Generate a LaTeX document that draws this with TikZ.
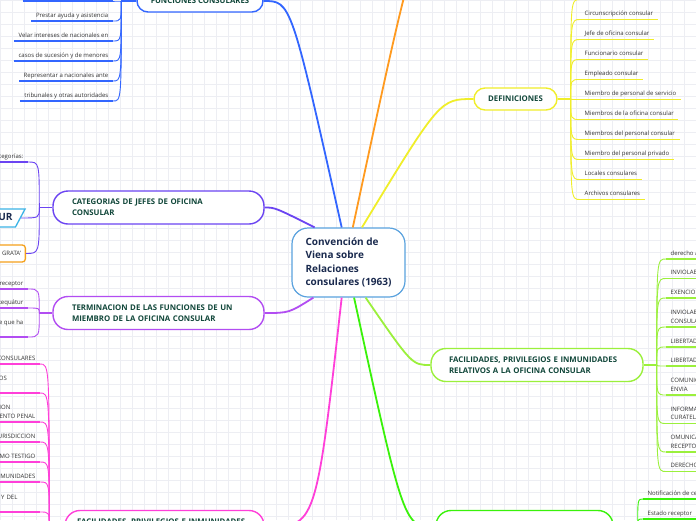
\documentclass[tikz,border=0pt]{standalone}
\usepackage{fontspec}
\setmainfont{Open Sans}
\usepackage{tikz}
\usetikzlibrary{positioning,shapes.geometric}

\definecolor{gridline}{HTML}{EDEEF3}
\definecolor{ctrblue}{HTML}{5AA2DE}
\definecolor{ctrtext}{HTML}{1A2A4E}
\definecolor{topictext}{HTML}{11473A}
\definecolor{leafgray}{HTML}{333333}
\definecolor{funcblue}{HTML}{3366FF}
\definecolor{orangeline}{HTML}{FF9A1F}
\definecolor{defyellow}{HTML}{F0EE2A}
\definecolor{catviolet}{HTML}{6B44F2}
\definecolor{termpurple}{HTML}{B24DF2}
\definecolor{faclime}{HTML}{9BF03C}
\definecolor{facmagenta}{HTML}{FF3FD9}
\definecolor{notgreen}{HTML}{3AF20A}
\definecolor{exqcyan}{HTML}{3BB3E6}
\definecolor{grataorange}{HTML}{F5A11C}

\tikzset{
  centre/.style={draw=ctrblue, line width=1.2pt, fill=white, rounded corners=16pt,
    minimum width=113pt, minimum height=69pt, align=left, text=ctrtext,
    font=\bfseries\fontsize{10}{13.6}\selectfont},
  topic/.style={draw=#1, line width=1.4pt, fill=white, text=topictext,
    font=\bfseries\fontsize{7.8}{11}\selectfont},
  pill/.style={topic=#1, rounded corners=11pt, minimum height=22pt},
  twoline/.style={topic=#1, rounded corners=15pt, minimum height=33pt, align=left},
  leaf/.style={text=leafgray, font=\fontsize{6}{8.6}\selectfont, align=left,
    inner xsep=4.5pt, inner ysep=2pt, text depth=1.6pt},
  exq/.style={trapezium, trapezium left angle=62, trapezium right angle=118,
    draw=exqcyan, line width=1.3pt, fill=white, text=ctrtext,
    font=\bfseries\fontsize{10}{12}\selectfont, inner xsep=3pt, inner ysep=4.5pt},
  grata/.style={draw=grataorange, line width=1.3pt, rounded corners=3pt, fill=white,
    text=leafgray, font=\fontsize{6}{8}\selectfont, inner xsep=4.5pt, minimum height=17pt},
  limb/.style={draw=#1, line width=1.8pt},
  twig/.style={draw=#1, line width=0.9pt},
  uline/.style={draw=#1, line width=1.7pt}
}

\begin{document}
\begin{tikzpicture}[x=1pt,y=1pt]
  \useasboundingbox (0,0) rectangle (696,-520);
  \clip (0,0) rectangle (696,-520);
  \fill[white] (0,0) rectangle (696,-520);
  \draw[gridline, line width=0.4pt, step=12] (0,0) grid (696,-520);

  % centre and main topics
  \node[centre] (ctr) at (348.5,-262.5) {Convención de\\Viena sobre\\Relaciones\\consulares (1963)};
  \node[pill=funcblue, minimum width=126pt] (func) at (200,-1) {FUNCIONES CONSULARES};
  \node[pill=defyellow, minimum width=83pt] (defs) at (515.5,-99) {DEFINICIONES};
  \node[twoline=catviolet, text width=173pt, inner xsep=19pt] (cats) at (158.5,-207.5)
    {CATEGORIAS DE JEFES DE OFICINA\\CONSULAR};
  \node[twoline=termpurple, text width=173pt, inner xsep=19pt] (term) at (158.5,-313)
    {TERMINACION DE LAS FUNCIONES DE UN\\MIEMBRO DE LA OFICINA CONSULAR};
  \node[twoline=faclime, text width=176pt, inner xsep=18pt] (facof) at (537,-365)
    {FACILIDADES, PRIVILEGIOS E INMUNIDADES\\RELATIVOS A LA OFICINA CONSULAR};
  \node[twoline=facmagenta, text width=175pt, inner xsep=12pt] (facfun) at (164.5,-527)
    {FACILIDADES, PRIVILEGIOS E INMUNIDADES\\RELATIVOS A LOS FUNCIONARIOS};
  \node[twoline=notgreen, minimum width=177pt] (notif) at (524.5,-527) {};
  \coordinate (orgE) at (440,62);

  % branch points
  \coordinate[left=15pt of func.west] (fB);
  \coordinate[right=13pt of defs.east] (dB);
  \coordinate[left=13pt of cats.west] (cB);
  \coordinate[left=13pt of term.west] (tB);
  \coordinate[right=13pt of facof.east] (oB);
  \coordinate[left=15pt of facfun.west] (mB);
  \coordinate[right=24pt of notif.east] (nB);

  % main branches
  \draw[limb=funcblue] (ctr.101) .. controls (291,0 |- func.east) .. (func.east);
  \draw[limb=orangeline] (ctr.83) .. controls (415,62) .. (orgE);
  \draw[limb=defyellow] (ctr.69) .. controls (440,0 |- defs.west) .. (defs.west);
  \draw[limb=catviolet] (ctr.134) .. controls (275,0 |- cats.east) .. (cats.east);
  \draw[limb=termpurple] (ctr.225) .. controls (289,0 |- term.east) .. (term.east);
  \draw[limb=faclime] (ctr.296) .. controls (412,0 |- facof.west) .. (facof.west);
  \draw[limb=facmagenta] (ctr.259) .. controls (316,0 |- facfun.east) .. (facfun.east);
  \draw[limb=notgreen] (ctr.279) .. controls (404,0 |- notif.west) .. (notif.west);

  % funciones consulares
  \foreach \t [count=\i] in {Expedir pasaportes y visados, Prestar ayuda y asistencia,
      Velar intereses de nacionales en, casos de sucesión y de menores,
      Representar a nacionales ante, tribunales y otras autoridades}
    \node[leaf, anchor=south east] (f\i) at (113,{19-20*\i}) {\t};
  \draw[limb=funcblue] (func.west) -- (fB);
  \foreach \i in {1,...,6} {
    \draw[uline=funcblue] (f\i.south west) -- (f\i.south east);
    \draw[twig=funcblue] (fB) .. controls (fB |- f\i.south east) .. (f\i.south east);
  }

  % definiciones
  \foreach \t [count=\i] in {Oficina consular, Circunscripción consular,
      Jefe de oficina consular, Funcionario consular, Empleado consular,
      Miembro de personal de servicio, Miembros de la oficina consular,
      Miembros del personal consular, Miembro del personal privado,
      Locales consulares, Archivos consulares}
    \node[leaf, anchor=south west] (d\i) at (580,{20.5-20*\i}) {\t};
  \draw[limb=defyellow] (defs.east) -- (dB);
  \foreach \i in {1,...,11} {
    \draw[uline=defyellow] (d\i.south west) -- (d\i.south east);
    \draw[twig=defyellow] (dB) .. controls (dB |- d\i.south west) .. (d\i.south west);
  }

  % categorias
  \node[leaf, anchor=south east] (c1) at (28,-162) {Los jefes de oficina consular se dividen en cuatro categorías:};
  \node[exq, anchor=east] (c2) at (21,-218) {EXEQUATUR};
  \node[grata, anchor=east] (c3) at (26,-253.5) {'PERSONA NON GRATA'};
  \draw[limb=catviolet] (cats.west) -- (cB);
  \draw[uline=catviolet] (c1.south west) -- (c1.south east);
  \draw[twig=catviolet] (cB) .. controls (cB |- c1.south east) .. (c1.south east);
  \draw[twig=catviolet] (cB) .. controls (cB |- c2.east) .. (c2.east);
  \draw[twig=catviolet] (cB) .. controls (cB |- c3.east) .. (c3.east);

  % terminacion
  \node[leaf, anchor=south east] (t1) at (28,-289) {Notificación del Estado que envía al Estado receptor};
  \node[leaf, anchor=south east] (t2) at (28,-308) {Retiro del exequátur};
  \node[leaf, anchor=south east] (t3) at (28,-337) {Notificación del Estado receptor de que ha\\dejado de considerarlo miembro};
  \draw[limb=termpurple] (term.west) -- (tB);
  \foreach \i in {1,2,3} {
    \draw[uline=termpurple] (t\i.south west) -- (t\i.south east);
    \draw[twig=termpurple] (tB) .. controls (tB |- t\i.south east) .. (t\i.south east);
  }

  % facilidades relativas a la oficina consular
  \node[leaf, anchor=south west] (o1) at (666,-259) {derecho a usar la bandera y el escudo nacionales};
  \node[leaf, anchor=south west] (o2) at (666,-278.5) {INVIOLABILIDAD DE LOS LOCALES CONSULARES};
  \node[leaf, anchor=south west] (o3) at (666,-298) {EXENCION FISCAL DE LOS LOCALES CONSULARES};
  \node[leaf, anchor=south west] (o4) at (666,-327) {INVIOLABILIDAD DE LOS ARCHIVOS Y DOCUMENTOS\\CONSULARES};
  \node[leaf, anchor=south west] (o5) at (666,-347) {LIBERTAD DE TRANSITO};
  \node[leaf, anchor=south west] (o6) at (666,-366) {LIBERTAD DE COMUNICACION};
  \node[leaf, anchor=south west] (o7) at (666,-395) {COMUNICACION CON LOS NACIONALES DEL ESTADO QUE\\ENVIA};
  \node[leaf, anchor=south west] (o8) at (666,-423.5) {INFORMACION EN CASOS DE DEFUNCION, TUTELA O\\CURATELA};
  \node[leaf, anchor=south west] (o9) at (666,-452) {OMUNICACION CON LAS AUTORIDADES DEL ESTADO\\RECEPTOR};
  \node[leaf, anchor=south west] (o10) at (666,-471.5) {DERECHOS Y ARANCELES CONSULARES};
  \draw[limb=faclime] (facof.east) -- (oB);
  \foreach \i in {1,...,10} {
    \draw[uline=faclime] (o\i.south west) -- (o\i.south east);
    \draw[twig=faclime] (oB) .. controls (oB |- o\i.south west) .. (o\i.south west);
  }

  % facilidades relativas a los funcionarios
  \node[leaf, anchor=south east] (m1) at (40,-364) {PROTECCION DE LOS FUNCIONARIOS CONSULARES};
  \node[leaf, anchor=south east, text width=129pt, text depth=10.2pt] (m2) at (40,-393) {INVIOLABILIDAD PERSONAL DE LOS\\FUNCIONARIOS CONSULARES};
  \node[leaf, anchor=south east] (m3) at (40,-422) {NOTIFICACION DE ARRESTO, DETENCION\\PREVENTIVA O INICIO DE PROCEDIMIENTO PENAL};
  \node[leaf, anchor=south east] (m4) at (40,-442) {INMUNIDAD DE JURISDICCION};
  \node[leaf, anchor=south east] (m5) at (40,-462) {OBLIGACION DE COMPARECER COMO TESTIGO};
  \node[leaf, anchor=south east] (m6) at (40,-482) {RENUNCIA A PRIVILEGIOS E INMUNIDADES};
  \node[leaf, anchor=south east, text width=164.5pt, text depth=10.2pt] (m7) at (40,-512) {EXENCION DE INSCRIPCION DE EXTRANJEROS Y DEL\\PERMISO DE RESIDENCIA};
  \draw[limb=facmagenta] (facfun.west) -- (mB);
  \foreach \i in {1,...,7} {
    \draw[uline=facmagenta] (m\i.south west) -- (m\i.south east);
    \draw[twig=facmagenta] (mB) .. controls (mB |- m\i.south east) .. (m\i.south east);
  }

  % notificaciones
  \node[leaf, anchor=south west] (n1) at (643,-499) {Notificación de cese de funciones};
  \node[leaf, anchor=south west] (n2) at (643,-519) {Estado receptor};
  \draw[limb=notgreen] (notif.east) -- (nB);
  \foreach \i in {1,2} {
    \draw[uline=notgreen] (n\i.south west) -- (n\i.south east);
    \draw[twig=notgreen] (nB) .. controls (nB |- n\i.south west) .. (n\i.south west);
  }
\end{tikzpicture}
\end{document}
